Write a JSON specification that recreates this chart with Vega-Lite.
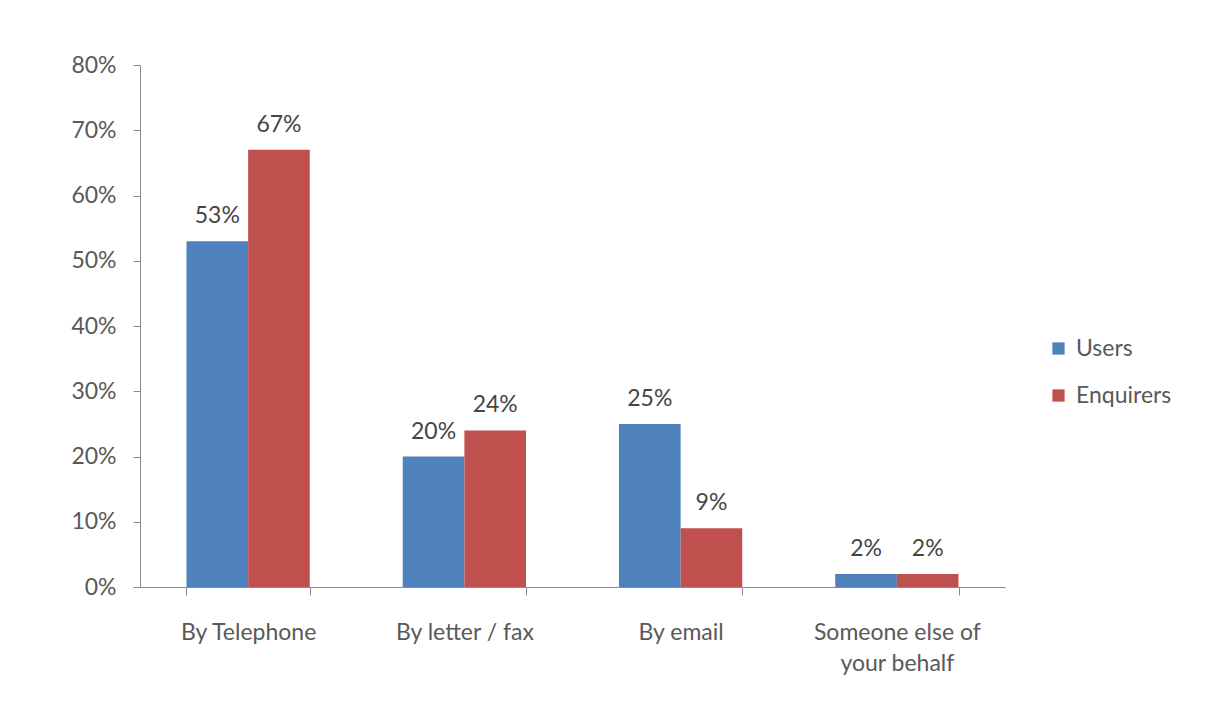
{
  "$schema": "https://vega.github.io/schema/vega-lite/v6.json",
  "width": 865,
  "height": 522,
  "autosize": {"type": "none"},
  "padding": {"left": 140, "top": 65, "right": 221, "bottom": 137},
  "background": "white",
  "config": {
    "font": "Lato",
    "view": {"stroke": null},
    "axis": {"labelFont": "Lato", "labelFontSize": 23, "labelColor": "#595959", "domainColor": "#8c8c8c", "tickColor": "#8c8c8c", "grid": false, "title": null}
  },
  "data": {
    "values": [
      {"method": "By Telephone", "group": "Users", "value": 0.53},
      {"method": "By Telephone", "group": "Enquirers", "value": 0.67},
      {"method": "By letter / fax", "group": "Users", "value": 0.20},
      {"method": "By letter / fax", "group": "Enquirers", "value": 0.24},
      {"method": "By email", "group": "Users", "value": 0.25},
      {"method": "By email", "group": "Enquirers", "value": 0.09},
      {"method": "Someone else of your behalf", "group": "Users", "value": 0.02},
      {"method": "Someone else of your behalf", "group": "Enquirers", "value": 0.02}
    ]
  },
  "encoding": {
    "x": {
      "field": "method", "type": "nominal", "sort": null,
      "scale": {"paddingInner": 0.43, "paddingOuter": 0.215},
      "axis": {
        "labelAngle": 0, "tickBand": "extent", "tickSize": 8, "labelPadding": 26,
        "labelLineHeight": 31,
        "labelExpr": "datum.label == 'Someone else of your behalf' ? ['Someone else of', 'your behalf'] : datum.label"
      }
    },
    "xOffset": {"field": "group", "type": "nominal", "sort": ["Users", "Enquirers"]},
    "y": {
      "field": "value", "type": "quantitative",
      "scale": {"domain": [0, 0.8], "nice": false},
      "axis": {"format": ".0%", "values": [0, 0.1, 0.2, 0.3, 0.4, 0.5, 0.6, 0.7, 0.8], "tickSize": 7, "labelPadding": 17}
    }
  },
  "layer": [
    {
      "mark": {"type": "bar"},
      "encoding": {
        "color": {
          "field": "group", "type": "nominal", "sort": ["Users", "Enquirers"],
          "scale": {"domain": ["Users", "Enquirers"], "range": ["#4F81BD", "#C0504D"]},
          "legend": {
            "title": null, "orient": "none", "legendX": 907, "legendY": 272,
            "symbolType": "square", "symbolSize": 150, "symbolStrokeWidth": 0,
            "labelFontSize": 23, "labelColor": "#595959", "labelFont": "Lato",
            "rowPadding": 23, "labelOffset": 6
          }
        }
      }
    },
    {
      "mark": {"type": "text", "dy": -25, "fontSize": 23, "color": "#454545", "font": "Lato"},
      "encoding": {
        "text": {"field": "value", "type": "quantitative", "format": ".0%"}
      }
    }
  ]
}
